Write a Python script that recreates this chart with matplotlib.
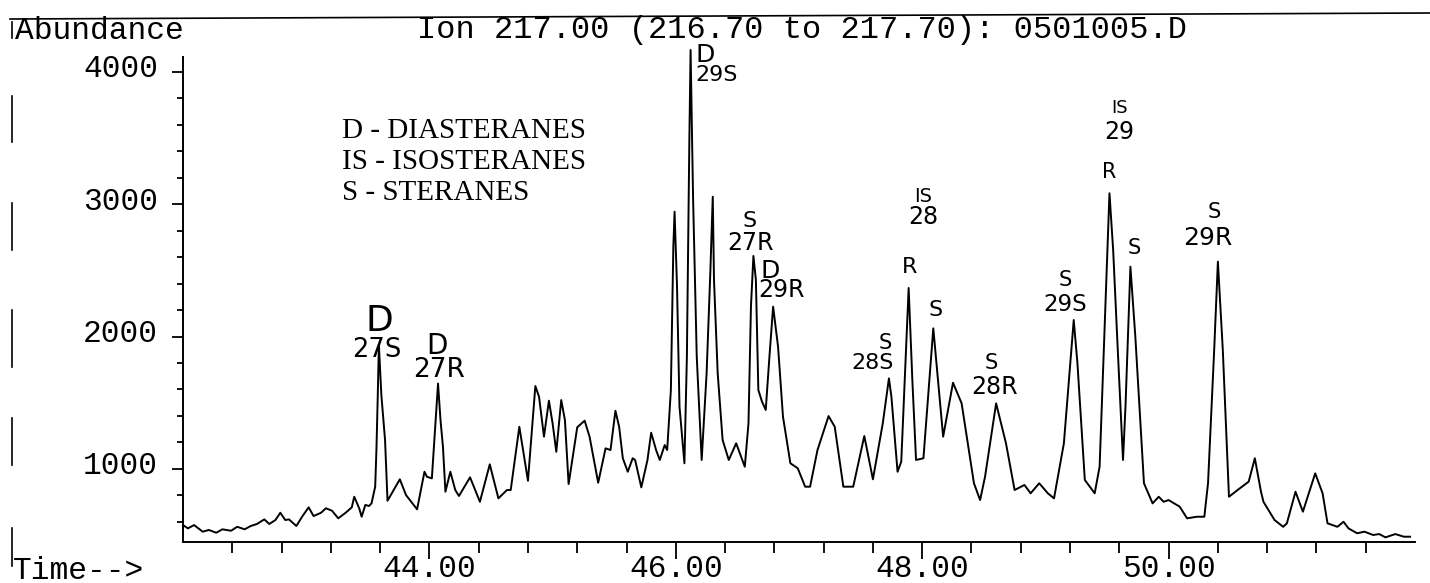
import numpy as np
import matplotlib
matplotlib.use("Agg")
import matplotlib.pyplot as plt
from matplotlib.lines import Line2D
from matplotlib.transforms import ScaledTranslation

# retention time (min) and abundance
time_min = [
    42.00, 42.04, 42.09, 42.16, 42.21, 42.27, 42.32, 42.39, 42.44, 42.50,
    42.55, 42.60, 42.66, 42.70, 42.75, 42.79, 42.83, 42.86, 42.92, 42.97,
    43.02, 43.06, 43.12, 43.16, 43.21, 43.26, 43.32, 43.37, 43.39, 43.43,
    43.45, 43.48, 43.51, 43.53, 43.56, 43.57, 43.58, 43.59, 43.60, 43.61,
    43.64, 43.66, 43.71, 43.76, 43.81, 43.90, 43.96, 43.98, 44.02, 44.04,
    44.07, 44.09, 44.11, 44.13, 44.17, 44.21, 44.24, 44.33, 44.41, 44.49,
    44.56, 44.63, 44.66, 44.73, 44.80, 44.86, 44.89, 44.93, 44.97, 45.00,
    45.03, 45.07, 45.10, 45.13, 45.20, 45.26, 45.30, 45.37, 45.43, 45.47,
    45.51, 45.54, 45.57, 45.61, 45.65, 45.67, 45.72, 45.77, 45.80, 45.84,
    45.87, 45.91, 45.93, 45.96, 45.98, 45.99, 46.01, 46.03, 46.07, 46.09,
    46.11, 46.12, 46.14, 46.17, 46.21, 46.25, 46.28, 46.30, 46.31, 46.34,
    46.38, 46.43, 46.49, 46.56, 46.59, 46.61, 46.63, 46.65, 46.67, 46.70,
    46.73, 46.76, 46.79, 46.83, 46.87, 46.93, 46.99, 47.05, 47.09, 47.15,
    47.24, 47.29, 47.36, 47.44, 47.53, 47.60, 47.68, 47.73, 47.75, 47.80,
    47.83, 47.89, 47.92, 47.95, 48.01, 48.09, 48.17, 48.25, 48.32, 48.42,
    48.47, 48.51, 48.60, 48.68, 48.75, 48.83, 48.88, 48.95, 49.02, 49.07,
    49.15, 49.23, 49.26, 49.32, 49.40, 49.44, 49.50, 49.52, 49.55, 49.59,
    49.63, 49.65, 49.69, 49.73, 49.80, 49.87, 49.92, 49.96, 50.00, 50.09,
    50.15, 50.23, 50.29, 50.32, 50.37, 50.40, 50.44, 50.49, 50.56, 50.65,
    50.70, 50.75, 50.77, 50.86, 50.93, 50.96, 51.03, 51.09, 51.19, 51.25,
    51.29, 51.37, 51.42, 51.46, 51.53, 51.59, 51.66, 51.71, 51.76, 51.84,
    51.91, 51.96,
]
abundance = [
    575, 550, 575, 525, 538, 517, 543, 532, 562, 543,
    568, 583, 618, 583, 613, 668, 613, 618, 568, 643,
    709, 643, 668, 702, 683, 626, 668, 709, 789, 702,
    638, 727, 719, 739, 865, 1142, 1520, 1936, 1747, 1558,
    1218, 759, 840, 921, 802, 694, 978, 940, 928, 1218,
    1645, 1369, 1167, 827, 978, 840, 795, 936, 751, 1034,
    777, 840, 840, 1318, 910, 1626, 1545, 1243, 1515, 1344,
    1129, 1520, 1369, 885, 1314, 1364, 1243, 895, 1155, 1142,
    1439, 1318, 1080, 978, 1080, 1067, 860, 1067, 1273, 1142,
    1067, 1180, 1142, 1596, 2679, 2944, 2377, 1470, 1042, 1848,
    3486, 4166, 3057, 1848, 1067, 1722, 2478, 3057, 2428, 1722,
    1218, 1067, 1193, 1016, 1344, 2226, 2609, 2428, 1596, 1507,
    1445, 1848, 2226, 1923, 1394, 1042, 1004, 865, 865, 1142,
    1399, 1318, 865, 865, 1248, 921, 1344, 1684, 1545, 978,
    1054, 2367, 1672, 1067, 1080, 2062, 1243, 1651, 1495, 891,
    764, 940, 1495, 1193, 840, 878, 815, 891, 815, 777,
    1193, 2125, 1798, 916, 815, 1016, 2554, 3083, 2654, 1848,
    1067, 1470, 2528, 1999, 891, 739, 789, 751, 764, 714,
    626, 638, 638, 891, 1898, 2566, 1898, 789, 840, 903,
    1080, 827, 751, 613, 562, 588, 827, 676, 966, 815,
    588, 562, 600, 550, 513, 525, 500, 507, 482, 507,
    487, 487,
]

x_major = [44, 46, 48, 50]
x_labels = ["44.00", "46.00", "48.00", "50.00"]
y_major = [1000, 2000, 3000, 4000]

legend_lines = ["D - DIASTERANES", "IS - ISOSTERANES", "S - STERANES"]

# hand-written peak labels: (text, time, abundance, size)
peak_labels = [
    ("D", 43.59, 2120, 26), ("27S", 43.57, 1898, 18.5),
    ("D", 44.06, 1925, 20), ("27R", 44.08, 1747, 19),
    ("D", 46.24, 4128, 18), ("29S", 46.33, 3977, 16),
    ("S", 46.60, 2876, 16), ("27R", 46.61, 2707, 17),
    ("D", 46.77, 2498, 18), ("29R", 46.86, 2352, 17),
    ("IS", 48.01, 3055, 14), ("28", 48.01, 2904, 17),
    ("R", 47.90, 2526, 16), ("S", 48.11, 2201, 16),
    ("S", 47.70, 1951, 15), ("28S", 47.60, 1800, 16),
    ("S", 48.56, 1800, 15), ("28R", 48.59, 1619, 17),
    ("S", 49.16, 2428, 15), ("29S", 49.16, 2239, 16.5),
    ("IS", 49.60, 3728, 13), ("29", 49.60, 3546, 17),
    ("R", 49.52, 3244, 15), ("S", 49.72, 2669, 15),
    ("S", 50.37, 2942, 15), ("29R", 50.32, 2745, 18),
]

W, H = 1430, 583
mono = "Liberation Mono"
fs = 22.5

fig = plt.figure(figsize=(W / 100, H / 100), dpi=100)
ax = fig.add_axes([183 / W, (H - 542) / H, (1415 - 183) / W, (542 - 57) / H])

ax.plot(time_min, abundance, color="black", lw=1.4, clip_on=False)
ax.set_xlim(42.0, 52.0)
ax.set_ylim(447, 4113)

ax.spines["top"].set_visible(False)
ax.spines["right"].set_visible(False)
for s in ("left", "bottom"):
    ax.spines[s].set_linewidth(1.4)

ax.set_xticks(x_major)
ax.set_xticklabels(x_labels)
ax.set_xticks([t for t in np.arange(42.4, 51.7, 0.4) if min(abs(t - m) for m in x_major) > 0.05], minor=True)
ax.set_yticks(y_major)
ax.set_yticks([v for v in range(600, 4001, 200) if v % 1000], minor=True)

ax.tick_params(axis="x", which="major", length=12, width=1.3, pad=-3.5)
ax.tick_params(axis="x", which="minor", length=8, width=1.3)
ax.tick_params(axis="y", which="major", length=8, width=1.3, pad=10)
ax.tick_params(axis="y", which="minor", length=4, width=1.3)
for lab in ax.get_xticklabels() + ax.get_yticklabels():
    lab.set_family(mono)
    lab.set_fontsize(fs)
# printed y labels sit a little above their ticks
lift = ScaledTranslation(0, 6 / 100, fig.dpi_scale_trans)
for lab in ax.get_yticklabels():
    lab.set_transform(lab.get_transform() + lift)

# header texts
fig.text(15 / W, 1 - 31 / H, "Abundance", family=mono, fontsize=fs, ha="left", va="center")
fig.text(802 / W, 1 - 30 / H, "Ion 217.00 (216.70 to 217.70): 0501005.D",
         family=mono, fontsize=23, ha="center", va="center")
fig.text(13 / W, 1 - 571 / H, "Time-->", family=mono, fontsize=fs, ha="left", va="center")

# printed legend
for i, line in enumerate(legend_lines):
    fig.text(342 / W, 1 - (131 + 31 * i) / H, line, family="Liberation Serif",
             fontsize=21, ha="left", va="center")

for txt, t, v, size in peak_labels:
    ax.text(t, v, txt, fontsize=size, ha="center", va="center", family="DejaVu Sans",
            clip_on=False)

# scan border and punch marks
fig.add_artist(Line2D([10 / W, 1.0], [1 - 19 / H, 1 - 13 / H], color="black", lw=1.2))
for y0, y1 in [(96, 142), (203, 250), (310, 367), (418, 465), (528, 566), (22, 38)]:
    fig.add_artist(Line2D([12 / W, 12 / W], [1 - y0 / H, 1 - y1 / H], color="black", lw=1.2))

fig.savefig("out.png", dpi=100)
